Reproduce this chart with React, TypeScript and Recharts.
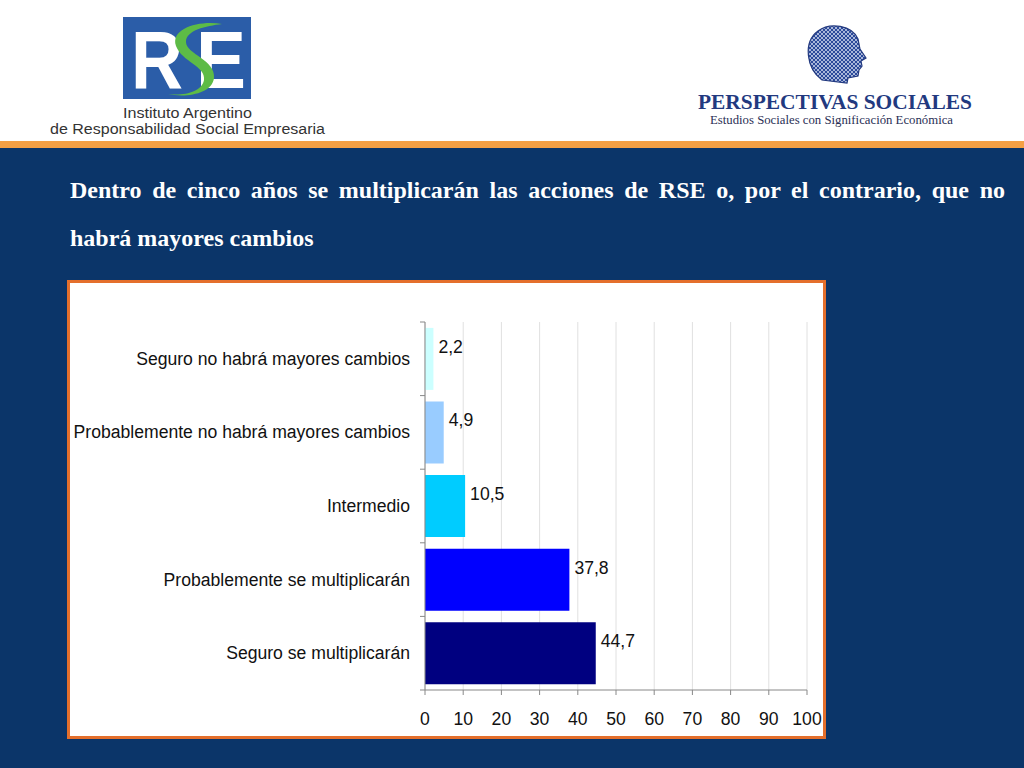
import React from 'react';
import { BarChart, Bar, XAxis, YAxis, CartesianGrid, Cell, LabelList } from 'recharts';

const categories = [
  'Seguro no habrá mayores cambios',
  'Probablemente no habrá mayores cambios',
  'Intermedio',
  'Probablemente se multiplicarán',
  'Seguro se multiplicarán',
];
const values = [2.2, 4.9, 10.5, 37.8, 44.7];
const barColors = ['#CCFFFF', '#99CCFF', '#00CCFF', '#0000FF', '#000080'];
const xTicks = [0, 10, 20, 30, 40, 50, 60, 70, 80, 90, 100];

const titleLine1 = 'Dentro de cinco años se multiplicarán las acciones de RSE o, por el contrario, que no';
const titleLine2 = 'habrá mayores cambios';

const data = categories.map((name, i) => ({ name, value: values[i] }));

const FONT = '"Liberation Sans", Arial, Helvetica, sans-serif';
const SERIF = '"Liberation Serif", "Times New Roman", serif';

const YTick = (props: any) => {
  const { x, y, payload } = props;
  const off = payload && typeof payload.offset === 'number' ? payload.offset : 0;
  return (
    <g>
      <text x={x} y={y} textAnchor="end" dominantBaseline="central" fontFamily={FONT} fontSize={17.6} fill="#111">
        {payload.value}
      </text>
      <line x1={x + 10} x2={x + 15} y1={y + off} y2={y + off} stroke="#888" />
      {payload.index === 0 && <line x1={x + 10} x2={x + 15} y1={y - off} y2={y - off} stroke="#888" />}
    </g>
  );
};

const renderLabel = (p: any) => {
  const { x, y, width, height, value } = p;
  return (
    <text
      x={Number(x) + Number(width) + 5}
      y={Number(y) + Number(height) / 2 - 12}
      dominantBaseline="central"
      fontFamily={FONT}
      fontSize={17.6}
      fill="#111"
    >
      {String(value).replace('.', ',')}
    </text>
  );
};

const Header = () => (
  <svg width={1024} height={148} style={{ position: 'absolute', left: 0, top: 0 }}>
    <defs>
      <pattern id="mesh" width="4" height="4" patternUnits="userSpaceOnUse">
        <rect width="4" height="4" fill="#2c4a9a" />
        <path d="M0 0 L4 4 M4 0 L0 4" stroke="#dfe6f5" strokeWidth="0.7" />
      </pattern>
    </defs>
    <rect x={0} y={0} width={1024} height={142} fill="#ffffff" />
    <rect x={0} y={141} width={1024} height={7} fill="#F5A044" />
    <rect x={123} y={17} width={128} height={82} fill="#2B5DA8" />
    <text x={131} y={88} fontFamily={FONT} fontWeight="bold" fontSize={82} fill="#ffffff" textLength={52} lengthAdjust="spacingAndGlyphs">R</text>
    <text x={196} y={88} fontFamily={FONT} fontWeight="bold" fontSize={82} fill="#ffffff" textLength={50} lengthAdjust="spacingAndGlyphs">E</text>
    <path d="M222 24 C200 20 170 28 176 46 C182 62 206 66 204 80 C202 92 184 96 168 94 C186 98 212 94 214 78 C216 60 186 54 186 42 C186 30 206 26 222 24 Z" fill="#5DBB46" />
    <text x={123} y={118} fontFamily={FONT} fontSize={14} fill="#333" textLength={129} lengthAdjust="spacingAndGlyphs">Instituto Argentino</text>
    <text x={50} y={134} fontFamily={FONT} fontSize={14} fill="#333" textLength={275} lengthAdjust="spacingAndGlyphs">de Responsabilidad Social Empresaria</text>
    <path
      d="M822 80 C806 68 803 42 818 31 C830 22 852 25 858 39 L860 49 L866 58 L861 61 L862 66 L859 70 L858 76 L848 78 L847 83 Z"
      fill="url(#mesh)"
      stroke="#22397f"
      strokeWidth={1.2}
    />
    <text x={698} y={109} fontFamily={SERIF} fontWeight="bold" fontSize={22} fill="#22397f" textLength={274} lengthAdjust="spacingAndGlyphs">PERSPECTIVAS SOCIALES</text>
    <text x={710} y={124} fontFamily={SERIF} fontSize={13} fill="#2a2f55" textLength={243} lengthAdjust="spacingAndGlyphs">Estudios Sociales con Significación Económica</text>
  </svg>
);

export default function App() {
  return (
    <div style={{ position: 'absolute', left: 0, top: 0, width: 1024, height: 768, overflow: 'hidden', background: '#0B3569' }}>
      <Header />
      <div
        style={{
          position: 'absolute', left: 70, top: 175, width: 935, fontFamily: SERIF, fontSize: 24, fontWeight: 'bold',
          lineHeight: '30px', color: '#ffffff', textAlign: 'justify', textAlignLast: 'justify',
        } as any}
      >
        {titleLine1}
      </div>
      <div
        style={{ position: 'absolute', left: 70, top: 223, fontFamily: SERIF, fontSize: 24, fontWeight: 'bold', lineHeight: '30px', color: '#ffffff' }}
      >
        {titleLine2}
      </div>
      <div
        style={{
          position: 'absolute', left: 67, top: 280, width: 759, height: 459, boxSizing: 'border-box',
          border: '3px solid #E46F2C', background: '#ffffff',
        }}
      >
        <BarChart
          width={753}
          height={453}
          data={data}
          layout="vertical"
          margin={{ top: 39, right: 16, bottom: 16, left: 0 }}
          barCategoryGap="8%"
        >
          <CartesianGrid horizontal={false} stroke="#e0e0e0" />
          <XAxis
            type="number"
            domain={[0, 100]}
            ticks={xTicks}
            tickSize={5}
            tickMargin={18}
            height={30}
            axisLine={{ stroke: '#888' }}
            tickLine={{ stroke: '#888' }}
            tick={{ fontFamily: FONT, fontSize: 17.6, fill: '#111' }}
            interval={0}
          />
          <XAxis
            xAxisId="top"
            orientation="top"
            type="number"
            domain={[0, 100]}
            tick={false}
            tickLine={false}
            height={0}
            axisLine={{ stroke: '#aaa' }}
          />
          <YAxis
            type="category"
            dataKey="name"
            width={355}
            tickSize={5}
            tickMargin={10}
            tickLine={false}
            axisLine={{ stroke: '#888' }}
            tick={<YTick />}
            interval={0}
          />
          <YAxis
            yAxisId="right"
            orientation="right"
            type="category"
            dataKey="name"
            width={0}
            tick={false}
            tickLine={false}
            axisLine={{ stroke: '#aaa' }}
          />
          <Bar dataKey="value" isAnimationActive={false}>
            {data.map((d, i) => (
              <Cell key={d.name} fill={barColors[i]} />
            ))}
            <LabelList dataKey="value" content={renderLabel} />
          </Bar>
        </BarChart>
      </div>
    </div>
  );
}
